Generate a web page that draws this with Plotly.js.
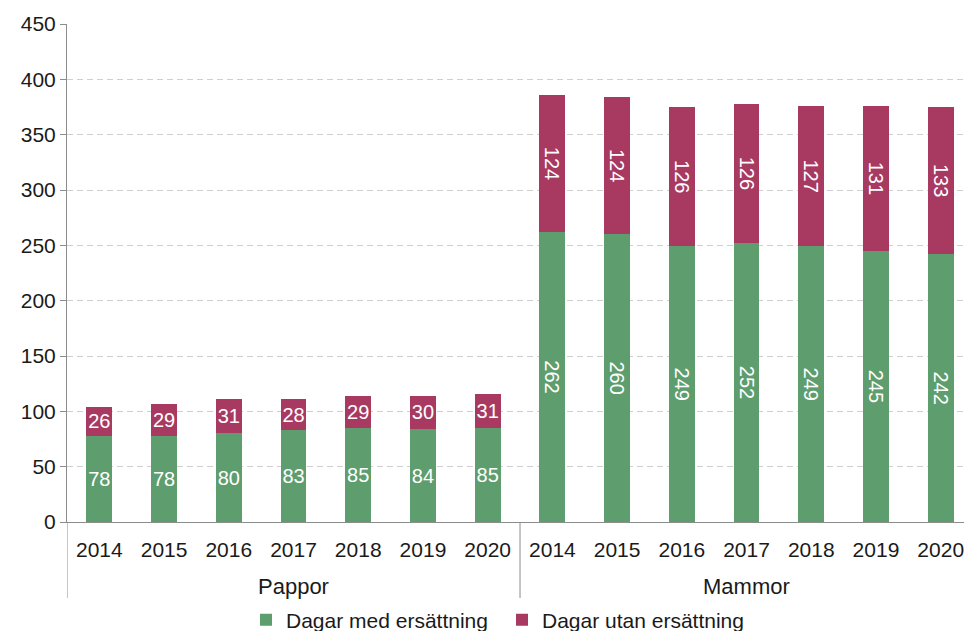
<!DOCTYPE html>
<html>
<head>
<meta charset="utf-8">
<script src="https://cdn.plot.ly/plotly-3.0.1.min.js"></script>
<style>html,body{margin:0;padding:0;background:#fff;}#chart{width:964px;height:631px;}</style>
</head>
<body>
<div id="chart"></div>
<script>
const years = ["2014","2015","2016","2017","2018","2019","2020"];
const groups = ["Pappor","Mammor"];
const papporMed = [78,78,80,83,85,84,85];
const papporUtan = [26,29,31,28,29,30,31];
const mammorMed = [262,260,249,252,249,245,242];
const mammorUtan = [124,124,126,126,127,131,133];
const seriesNames = ["Dagar med ersättning","Dagar utan ersättning"];
const colors = ["#5e9d6d","#a83a62"];

const n = years.length;
function pos(gi){ return years.map((_, i) => gi * n + i); }

function mk(gi, vals, idx, angle, showLeg){
  return {
    type:"bar", x:pos(gi), y:vals, name:seriesNames[idx],
    legendgroup:"s"+idx, showlegend:showLeg,
    marker:{color:colors[idx]},
    text:vals.map(String), textposition:"inside", insidetextanchor:"middle",
    constraintext:"none",
    textangle:angle, textfont:{color:"#ffffff", size:20, family:"Liberation Sans, Arial, sans-serif"},
    width:0.4, hoverinfo:"y",
    customdata: years.map(y => groups[gi] + " " + y)
  };
}

const data = [
  mk(0, papporMed, 0, 0, true),
  mk(0, papporUtan, 1, 0, true),
  mk(1, mammorMed, 0, 90, false),
  mk(1, mammorUtan, 1, 90, false)
];

const plotH = 631 - 24 - 109;
const tickvals = [...pos(0), ...pos(1)];
const ticktext = [...years, ...years];

const shapes = [];
for (let g = 0; g <= groups.length; g++) {
  shapes.push({type:"line", xref:"x", yref:"paper", x0:g*n-0.5, x1:g*n-0.5, y0:0, y1:-76/plotH,
               line:{color:"#8c8c8c", width:1}});
}
const annotations = groups.map((g, gi) => ({
  text:g, xref:"x", yref:"paper", x:gi*n + (n-1)/2, y:-(586-522)/plotH,
  yanchor:"middle", xanchor:"center", showarrow:false, font:{size:22, color:"#1a1a1a"}
}));

const layout = {
  width:964, height:631,
  margin:{l:67, r:0, t:24, b:109, autoexpand:false},
  barmode:"stack",
  paper_bgcolor:"#fff", plot_bgcolor:"#fff",
  font:{family:"Liberation Sans, Arial, sans-serif", size:20, color:"#1a1a1a"},
  showlegend:true,
  legend:{orientation:"h", x:(246-67)/897, xanchor:"left", y:-0.197, yanchor:"middle", traceorder:"normal",
          font:{size:21}, itemwidth:30, entrywidth:211, entrywidthmode:"pixels"},
  xaxis:{range:[-0.5,13.36], tickvals:tickvals, ticktext:ticktext, showline:true, linecolor:"#8c8c8c", linewidth:1,
         ticks:"outside", ticklen:9, tickcolor:"rgba(0,0,0,0)", showgrid:false, zeroline:false,
         ticklabeloverflow:"allow", tickfont:{size:21}},
  yaxis:{range:[0,450], dtick:50, showline:true, linecolor:"#8c8c8c", linewidth:1,
         ticks:"outside", ticklen:6, tickcolor:"#8c8c8c", showgrid:true,
         gridcolor:"#d0d0d0", griddash:"6px,4px", gridwidth:1, zeroline:false, tickfont:{size:21}},
  shapes:shapes,
  annotations:annotations
};

Plotly.newPlot("chart", data, layout, {displayModeBar:false, staticPlot:true});
</script>
</body>
</html>
